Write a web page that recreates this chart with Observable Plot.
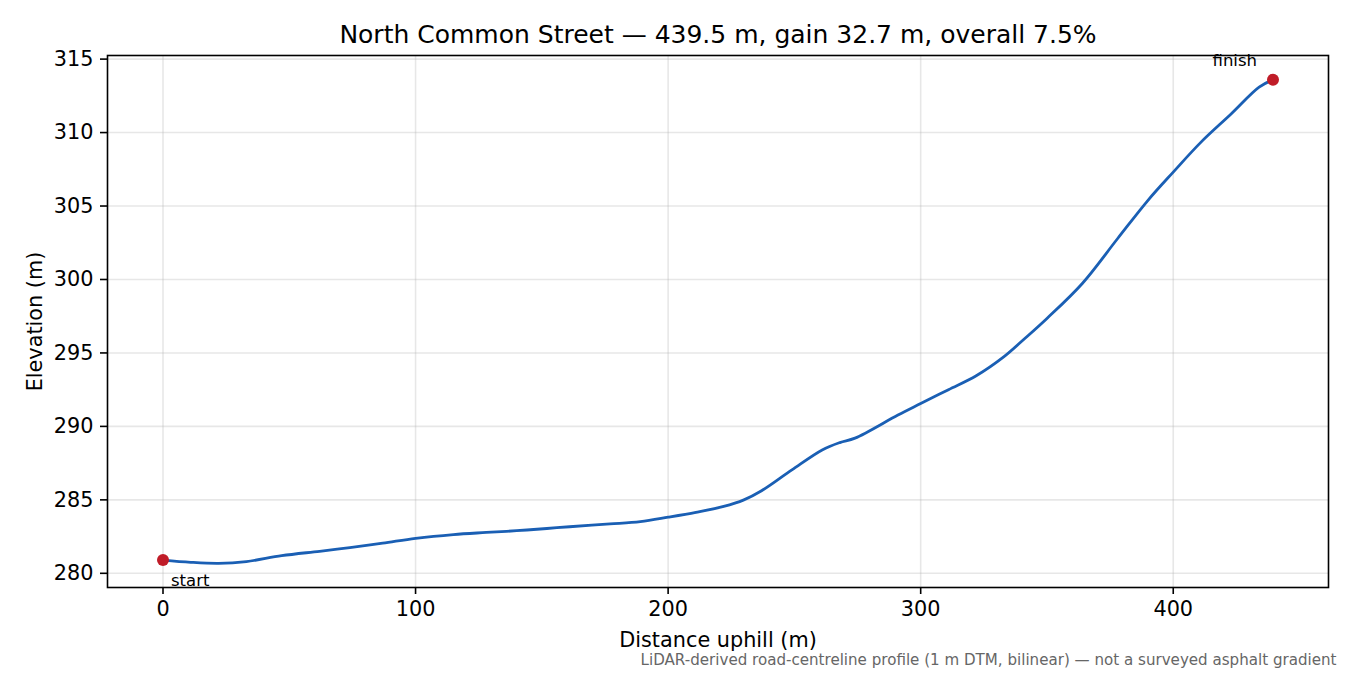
<!DOCTYPE html>
<html>
<head>
<meta charset="utf-8">
<script src="https://cdn.jsdelivr.net/npm/d3@7"></script>
<script src="https://cdn.jsdelivr.net/npm/@observablehq/plot@0.6"></script>
<style>
  html, body { margin: 0; padding: 0; background: #fff; }
  #chart svg { display: block; }
</style>
</head>
<body>
<div id="chart"></div>
<script>
const titleText = "North Common Street — 439.5 m, gain 32.7 m, overall 7.5%";
const xLabel = "Distance uphill (m)";
const yLabel = "Elevation (m)";
const captionText = "LiDAR-derived road-centreline profile (1 m DTM, bilinear) — not a surveyed asphalt gradient";

const distance = [0, 11, 22, 33, 47, 62, 74, 87, 100, 115, 128, 140, 152, 161, 177, 189, 200, 211, 222, 230, 237, 249, 261, 268, 274, 291, 300, 311, 322, 333, 341, 350, 364, 378, 390, 400, 411, 423, 434, 439.5];
const elevation = [280.9, 280.75, 280.68, 280.8, 281.2, 281.5, 281.75, 282.05, 282.38, 282.64, 282.78, 282.9, 283.05, 283.17, 283.36, 283.52, 283.82, 284.15, 284.55, 285.0, 285.62, 287.04, 288.4, 288.9, 289.2, 290.77, 291.55, 292.5, 293.45, 294.75, 295.95, 297.35, 299.73, 302.79, 305.39, 307.31, 309.35, 311.28, 313.09, 313.6];
const xTicks = [0, 100, 200, 300, 400];
const yTicks = [280, 285, 290, 295, 300, 305, 310, 315];
const endpointLabels = ["start", "finish"];

const profile = distance.map((d, i) => ({distance: d, elevation: elevation[i]}));
const startPt = [{distance: distance[0], elevation: elevation[0], label: endpointLabels[0]}];
const finishPt = [{distance: distance[distance.length - 1], elevation: elevation[elevation.length - 1], label: endpointLabels[1]}];

const font = "DejaVu Sans, Liberation Sans, sans-serif";
const xPad = (distance[distance.length - 1] - distance[0]) * 0.05;
const yMin = d3.min(elevation), yMax = d3.max(elevation);
const yPad = (yMax - yMin) * 0.05;

const chart = Plot.plot({
  width: 1350,
  height: 675,
  marginLeft: 107,
  marginRight: 22,
  marginTop: 55,
  marginBottom: 88,
  style: {fontFamily: font, background: "#fff", color: "#000"},
  x: {domain: [distance[0] - xPad, distance[distance.length - 1] + xPad]},
  y: {domain: [yMin - yPad, yMax + yPad]},
  marks: [
    Plot.gridX(xTicks, {stroke: "#b0b0b0", strokeOpacity: 0.3, strokeWidth: 1.6}),
    Plot.gridY(yTicks, {stroke: "#b0b0b0", strokeOpacity: 0.3, strokeWidth: 1.6}),
    Plot.axisX(xTicks, {tickSize: 7, tickPadding: 7, fontSize: 20.8, label: null, stroke: "#000", strokeWidth: 1.6, tickFormat: d => String(d)}),
    Plot.axisY(yTicks, {tickSize: 7, tickPadding: 7, fontSize: 20.8, label: null, stroke: "#000", strokeWidth: 1.6, tickFormat: d => String(d)}),
    Plot.line(profile, {x: "distance", y: "elevation", stroke: "#1a5fb4", strokeWidth: 2.8, curve: "catmull-rom"}),
    Plot.dot(startPt, {x: "distance", y: "elevation", r: 6, fill: "#c01c28", stroke: "none"}),
    Plot.dot(finishPt, {x: "distance", y: "elevation", r: 6, fill: "#c01c28", stroke: "none"}),
    Plot.text(startPt, {x: "distance", y: "elevation", text: "label", textAnchor: "start", lineAnchor: "top", dx: 8, dy: 14, fontSize: 16.5, fill: "#000"}),
    Plot.text(finishPt, {x: "distance", y: "elevation", text: "label", textAnchor: "end", lineAnchor: "bottom", dx: -16, dy: -14, fontSize: 16.5, fill: "#000"}),
    Plot.frame({stroke: "#000", strokeWidth: 1.6}),
    Plot.text([titleText], {text: d => d, frameAnchor: "top", dy: -21, textAnchor: "middle", lineAnchor: "middle", fontSize: 25, fill: "#000"}),
    Plot.text([xLabel], {text: d => d, frameAnchor: "bottom", dy: 53, textAnchor: "middle", lineAnchor: "middle", fontSize: 20.8, fill: "#000"}),
    Plot.text([yLabel], {text: d => d, frameAnchor: "left", dx: -72, rotate: -90, textAnchor: "middle", lineAnchor: "middle", fontSize: 20.8, fill: "#000"}),
    Plot.text([captionText], {text: d => d, frameAnchor: "bottom-right", dx: 8, dy: 73, textAnchor: "end", lineAnchor: "middle", fontSize: 15.1, fill: "#666"})
  ]
});
document.getElementById("chart").appendChild(chart);
</script>
</body>
</html>
